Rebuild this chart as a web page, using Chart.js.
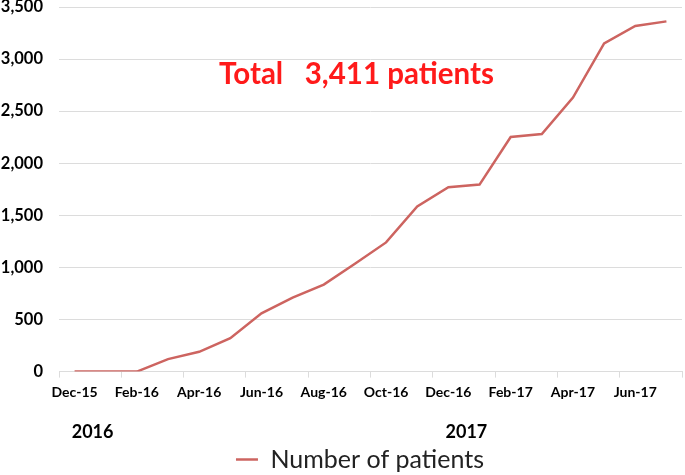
<!DOCTYPE html>
<html>
<head>
<meta charset="utf-8">
<script src="https://cdn.jsdelivr.net/npm/chart.js@4.4.1/dist/chart.umd.min.js"></script>
<style>
  html, body { margin: 0; padding: 0; background: #fff; }
  #wrap { width: 685px; height: 475px; }
</style>
</head>
<body>
<div id="wrap"><canvas id="chart"></canvas></div>
<script>
// months on the category axis (one point per month)
const months = ['Dec-15', 'Jan-16', 'Feb-16', 'Mar-16', 'Apr-16', 'May-16', 'Jun-16', 'Jul-16',
  'Aug-16', 'Sep-16', 'Oct-16', 'Nov-16', 'Dec-16', 'Jan-17', 'Feb-17', 'Mar-17',
  'Apr-17', 'May-17', 'Jun-17', 'Jul-17'];
// cumulative number of patients
const patients = [0, 0, 0, 120, 190, 320, 560, 710, 835, 1035, 1240, 1585, 1770, 1795,
  2252, 2280, 2630, 3150, 3318, 3362];
const yearLabels = ['2016', '2017'];
const yearAt = [0, 12]; // month index under which the year label sits
const totalText = 'Total   3,411 patients';

const FONT = 'Lato, "Open Sans", sans-serif';
const lineColor = '#cd6460';
const gridColor = '#dcdcdc';

// draws the year labels and the red total note, nudges the legend
const extraText = {
  id: 'extraText',
  afterLayout(chart) {
    const lg = chart.legend;
    lg.left += 19;
    lg.right += 19;
    lg.top += 7;
    lg.bottom += 7;
  },
  afterDraw(chart) {
    const ctx = chart.ctx;
    const x = chart.scales.x;
    const y = chart.scales.y;
    ctx.save();
    ctx.fillStyle = '#000';
    ctx.font = 'bold 18px ' + FONT;
    ctx.textAlign = 'center';
    ctx.textBaseline = 'middle';
    yearLabels.forEach((t, i) => {
      ctx.fillText(t, x.getPixelForValue(yearAt[i]) + 18, 432);
    });
    ctx.fillStyle = '#ff1a1a';
    ctx.font = 'bold 29.5px ' + FONT;
    ctx.fillText(totalText, x.getPixelForValue(9.05), y.getPixelForValue(2856));
    ctx.restore();
  }
};

new Chart(document.getElementById('chart'), {
  type: 'line',
  data: {
    labels: months,
    datasets: [{
      label: 'Number of patients',
      data: patients,
      borderColor: lineColor,
      backgroundColor: lineColor,
      borderWidth: 2.5,
      pointRadius: 0,
      tension: 0
    }]
  },
  options: {
    responsive: true,
    maintainAspectRatio: false,
    animation: false,
    layout: { padding: { top: 0, right: 3, left: 0, bottom: 0 } },
    plugins: {
      tooltip: { enabled: false },
      legend: {
        position: 'bottom',
        labels: {
          usePointStyle: true,
          pointStyle: 'line',
          pointStyleWidth: 22,
          color: '#222',
          font: { family: FONT, size: 25 },
          padding: 0
        }
      }
    },
    scales: {
      x: {
        offset: true,
        grid: {
          offset: true,
          drawOnChartArea: false,
          drawTicks: true,
          tickLength: 6,
          color: (c) => (c.index === undefined || c.index % 2 === 0) ? gridColor : 'transparent'
        },
        border: { color: gridColor },
        ticks: {
          autoSkip: false,
          maxRotation: 0,
          color: '#000',
          font: { family: FONT, size: 14, weight: 'bold' },
          padding: 6,
          callback: (v, i) => i % 2 === 0 ? months[i] : ''
        },
        title: {
          display: true,
          text: ' ',
          font: { family: FONT, size: 18 },
          padding: { top: 10, bottom: 2 }
        }
      },
      y: {
        min: 0,
        max: 3500,
        grid: { color: gridColor, drawTicks: false },
        border: { display: false },
        ticks: {
          stepSize: 500,
          color: '#000',
          font: { family: FONT, size: 16.5, weight: 'bold' },
          padding: 16,
          callback: (v) => v.toLocaleString('en-US')
        },
        afterFit(s) {
          s.width = 59;
          s.paddingTop = 7;
        }
      }
    }
  },
  plugins: [extraText]
});
</script>
</body>
</html>
